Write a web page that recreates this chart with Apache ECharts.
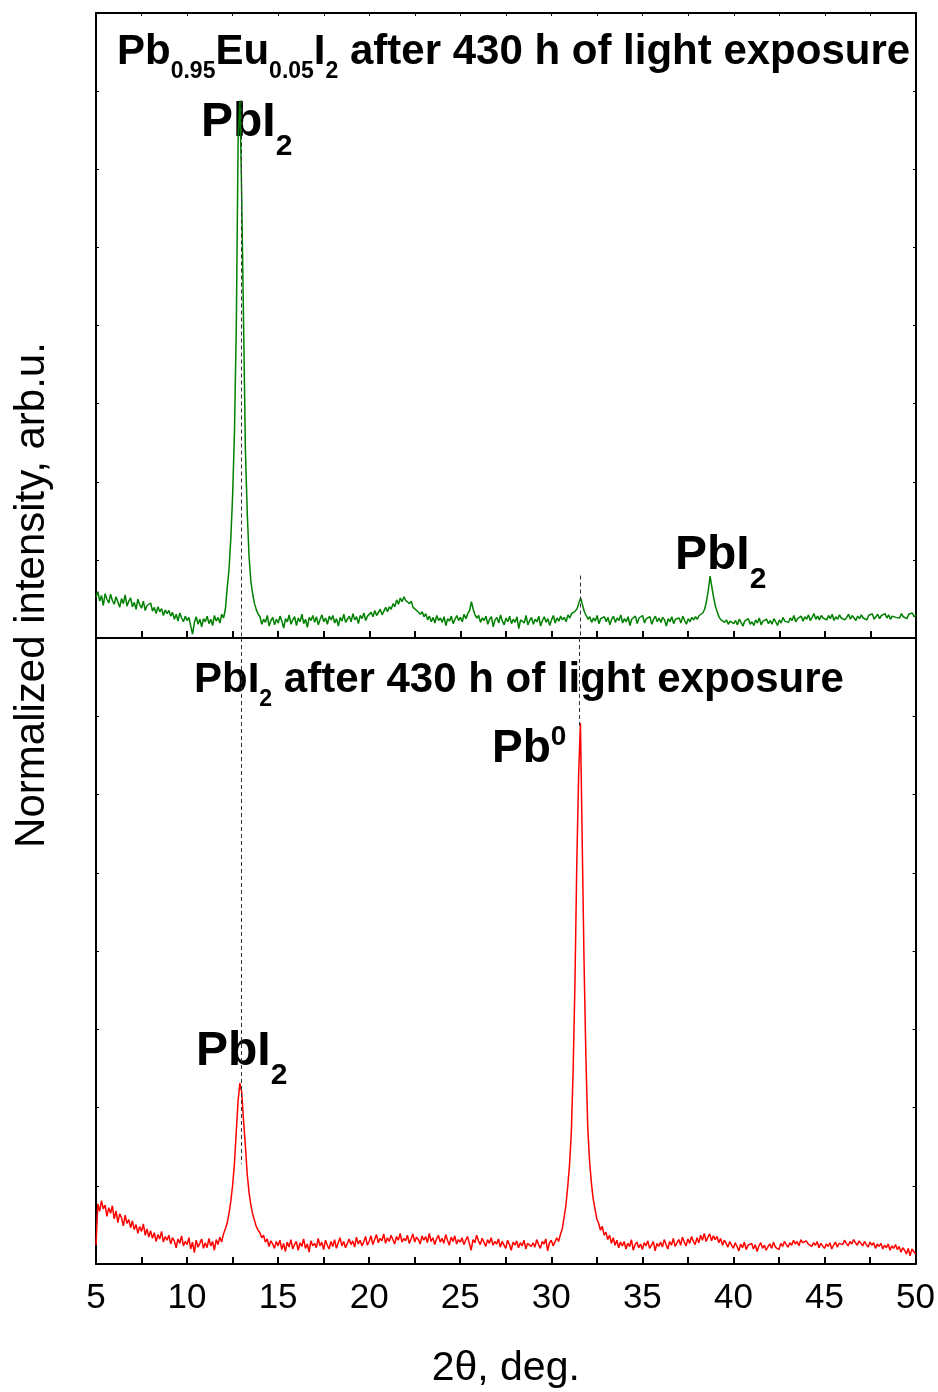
<!DOCTYPE html>
<html>
<head>
<meta charset="utf-8">
<script src="https://cdn.jsdelivr.net/npm/echarts@6/dist/echarts.min.js"></script>
<style>
html, body { margin: 0; padding: 0; background: #fff; }
#chart { width: 938px; height: 1392px; }
</style>
</head>
<body>
<div id="chart"></div>
<script>
// 2theta grid of the scans, deg
var angleStart = 5, angleStep = 0.1, angleCount = 451;

// Pb0.95Eu0.05I2 scan (top panel), normalized intensity
var euIntensity = [
  6.5, 7.4, 5.9, 6.8, 5.2, 7.1, 6.2, 5.6, 7.0, 6.0,
  5.4, 6.6, 5.8, 4.9, 6.3, 5.5, 6.9, 5.1, 5.9, 6.4,
  5.0, 5.7, 4.6, 6.2, 5.3, 4.8, 5.9, 4.4, 5.2, 4.9,
  5.6, 4.3, 4.9, 3.9, 5.0, 4.2, 4.7, 3.6, 4.5, 3.9,
  4.4, 3.5, 4.1, 3.0, 3.8, 2.7, 4.0, 3.2, 2.6, 3.5,
  2.8, 3.3, 1.9, 0.6, 2.5, 3.4, 2.2, 3.0, 1.8, 3.1,
  2.6, 3.5, 2.3, 3.0, 2.0, 3.6, 2.7, 3.3, 2.4, 3.8,
  3.2, 4.6, 8.0, 11, 16, 23, 33, 50, 80, 86,
  70, 50, 30, 20, 13, 9.0, 7.0, 5.5, 4.5, 3.8,
  3.4, 2.2, 3.0, 2.5, 3.6, 1.9, 2.8, 3.3, 2.1, 3.0,
  2.4, 3.5, 2.7, 1.6, 3.1, 2.6, 3.7, 2.2, 2.9, 3.4,
  2.0, 3.2, 2.6, 3.8, 2.3, 3.0, 1.7, 3.3, 2.8, 3.6,
  2.5, 3.4, 2.1, 3.0, 3.7, 2.6, 3.2, 2.2, 3.5, 2.9,
  3.6, 2.4, 3.1, 1.9, 3.3, 2.7, 3.8, 2.5, 3.0, 3.5,
  2.6, 3.9, 2.9, 3.4, 2.3, 3.6, 3.1, 4.0, 2.8, 3.5,
  3.2, 4.1, 3.4, 4.4, 3.6, 3.9, 4.6, 3.7, 4.3, 4.9,
  4.2, 5.0, 4.6, 5.5, 5.0, 6.1, 5.4, 6.4, 5.8, 6.6,
  6.0, 6.3, 5.5, 5.9, 4.9, 5.2, 4.4, 4.6, 3.8, 4.2,
  3.4, 3.9, 2.9, 3.5, 2.6, 3.3, 2.4, 3.6, 2.8, 3.2,
  2.5, 3.4, 2.0, 3.1, 2.7, 3.5, 2.3, 3.0, 3.6, 2.8,
  3.3, 2.6, 3.8, 3.1, 3.9, 4.4, 5.8, 4.6, 3.7, 3.2,
  3.6, 2.5, 3.2, 2.8, 3.5, 2.2, 3.0, 3.4, 1.8, 2.9,
  3.3, 2.4, 3.7, 2.7, 2.1, 3.2, 2.6, 3.5, 2.3, 3.0,
  2.5, 3.4, 1.5, 2.9, 3.2, 2.4, 3.6, 2.1, 2.8, 3.3,
  2.2, 3.0, 2.6, 3.5, 1.9, 2.8, 3.4, 2.5, 3.1, 2.0,
  2.9, 3.6, 2.4, 3.2, 2.7, 3.5, 2.9, 3.3, 2.6, 3.7,
  3.2, 3.9, 3.6, 4.3, 4.7, 5.6, 6.4, 5.3, 4.2, 3.6,
  3.0, 3.4, 2.5, 3.2, 2.7, 3.6, 2.3, 3.1, 2.8, 3.4,
  2.6, 3.3, 2.1, 3.0, 3.5, 2.5, 3.2, 2.8, 3.7, 2.4,
  3.1, 2.6, 3.4, 2.0, 3.0, 2.7, 3.5, 2.3, 3.2, 2.9,
  3.6, 2.4, 3.1, 2.8, 3.4, 2.2, 3.0, 3.5, 2.6, 3.2,
  2.5, 3.3, 2.9, 1.9, 3.1, 2.6, 3.4, 2.3, 3.0, 2.7,
  3.2, 2.4, 3.5, 2.8, 2.2, 3.1, 2.6, 3.3, 2.9, 3.4,
  3.0, 3.6, 3.3, 4.0, 4.6, 5.8, 7.6, 9.9, 8.1, 6.4,
  5.0, 4.1, 3.3, 2.9, 3.2, 2.5, 2.9, 2.2, 2.7, 3.0,
  2.3, 2.8, 2.1, 3.0, 2.5, 1.9, 2.7, 2.4, 3.1, 2.2,
  2.6, 2.0, 2.9, 2.4, 3.2, 2.1, 2.7, 2.5, 3.0, 2.3,
  2.8, 2.2, 3.1, 2.6, 2.0, 2.9, 2.4, 3.3, 2.7, 3.0,
  2.5, 3.2, 2.8, 3.6, 2.6, 3.1, 2.9, 3.5, 2.7, 3.4,
  3.0, 3.7, 2.8, 3.3, 3.9, 3.0, 3.5, 2.9, 3.6, 3.2,
  3.4, 2.9, 3.6, 3.1, 3.8, 2.8, 3.4, 3.0, 3.7, 3.2,
  3.5, 2.9, 3.3, 3.8, 3.0, 3.6, 3.2, 2.8, 3.5, 3.1,
  3.7, 3.2, 3.5, 2.9, 3.6, 3.3, 3.9, 3.0, 3.4, 3.8,
  3.1, 3.6, 3.3, 3.9, 3.2, 3.7, 3.0, 3.5, 3.8, 3.3,
  3.6, 3.2, 3.9, 3.4, 3.7, 3.1, 3.8, 3.5, 4.0, 3.4,
  3.7
];

// PbI2 scan (bottom panel), normalized intensity
var pbIntensity = [
  3.0, 9.6, 8.4, 10.1, 8.8, 9.4, 7.6, 9.0, 8.1, 9.3,
  7.2, 8.5, 6.6, 8.0, 7.4, 6.1, 7.8, 6.5, 7.1, 5.8,
  6.9, 5.5, 6.3, 4.9, 6.0, 5.2, 6.4, 4.6, 5.6, 4.3,
  5.3, 4.1, 5.0, 3.6, 4.7, 4.0, 5.2, 3.5, 4.4, 3.8,
  4.6, 3.2, 4.2, 3.7, 2.6, 4.0, 3.3, 4.5, 2.9, 3.6,
  3.1, 4.2, 2.4, 3.5, 1.8, 3.8, 2.7, 3.3, 4.0, 2.5,
  3.4, 2.6, 4.1, 2.9, 3.6, 2.2, 3.9, 3.1, 4.3, 3.5,
  4.8, 5.6, 6.5, 8.0, 10.0, 12.5, 16, 21, 26, 28.9,
  27.5, 23, 19, 14.5, 11.5, 9.5, 8.0, 7.0, 6.0, 5.4,
  5.0, 4.2, 4.6, 3.5, 4.0, 2.8, 3.7, 3.2, 2.5, 3.6,
  2.9, 3.8, 2.3, 3.3, 2.0, 3.5, 2.7, 3.9, 2.4, 3.1,
  3.6, 2.2, 3.4, 2.8, 4.0, 2.5, 3.2, 1.9, 3.7, 2.9,
  3.3, 2.6, 4.1, 2.9, 3.5, 2.3, 3.8, 3.0, 2.4, 3.6,
  2.8, 3.9, 2.5, 3.4, 4.2, 2.9, 3.6, 2.6, 3.3, 4.0,
  3.1, 3.7, 2.7, 4.3, 3.2, 3.8, 2.9, 3.5, 4.4, 3.0,
  3.6, 4.5, 3.1, 3.9, 4.7, 3.4, 4.1, 3.7, 4.8, 3.3,
  4.2, 3.6, 4.6, 3.9, 3.2, 4.4, 3.8, 4.9, 3.5, 4.1,
  3.7, 4.6, 3.3, 4.0, 4.8, 3.5, 4.3, 3.9, 3.2, 4.5,
  3.8, 4.4, 3.4, 4.9, 3.6, 4.2, 3.1, 4.0, 4.6, 3.5,
  4.1, 3.3, 4.7, 3.8, 3.0, 4.3, 3.6, 4.5, 3.2, 3.9,
  3.5, 4.2, 3.1, 3.8, 4.4, 3.3, 2.2, 3.9, 3.4, 4.6,
  3.7, 3.1, 4.1, 3.5, 2.8, 3.9, 3.3, 4.2, 3.0, 3.6,
  3.2, 4.0, 2.7, 3.6, 3.3, 2.5, 3.8, 3.1, 2.2, 3.5,
  3.0, 3.7, 2.6, 3.4, 2.9, 3.8, 2.4, 3.3, 3.6, 2.8,
  3.4, 2.7, 3.9, 3.1, 2.5, 3.6, 3.2, 4.0, 2.1, 3.4,
  3.8, 2.9, 3.5, 4.2, 3.6, 4.7, 5.6, 7.4, 9.3, 12.3,
  15.8, 21, 31, 45, 64, 78, 86.4, 67, 48, 33,
  22, 16.5, 13, 10.4, 8.8, 7.2, 6.5, 5.4, 6.0, 4.6,
  5.1, 3.9, 4.6, 3.3, 4.2, 3.0, 3.8, 2.6, 3.5, 2.9,
  3.6, 2.4, 3.3, 2.8, 3.9, 2.2, 3.1, 3.5, 2.6, 3.2,
  2.3, 3.4, 2.9, 3.7, 2.5, 3.0, 3.6, 2.1, 3.3, 2.8,
  3.5, 2.7, 3.9, 3.1, 2.4, 3.6, 3.0, 4.1, 2.8, 3.4,
  3.9, 3.0, 4.3, 3.5, 2.9, 4.0, 3.3, 4.4, 3.6, 3.1,
  4.2, 3.4, 4.6, 3.8, 4.9, 3.6, 4.3, 4.8, 3.7, 4.5,
  3.9, 4.4, 3.4, 4.1, 3.0, 3.8, 3.3, 2.7, 3.6, 3.0,
  2.5, 3.4, 2.8, 2.1, 3.2, 2.6, 3.5, 2.3, 3.0, 2.7,
  3.3, 2.4, 3.1, 2.0, 2.9, 3.4, 2.5, 3.0, 2.2, 2.8,
  3.2, 2.5, 3.5, 2.7, 3.0, 2.3, 3.3, 2.8, 3.6, 3.1,
  2.7, 3.4, 3.0, 3.8, 3.2, 3.6, 2.9, 3.9, 3.4, 3.1,
  3.7, 3.2, 3.5, 2.8, 3.4, 3.0, 3.6, 2.6, 3.3, 2.9,
  2.5, 3.2, 2.8, 3.4, 2.4, 3.0, 3.5, 2.7, 3.3, 3.6,
  3.1, 3.8, 3.3, 2.9, 3.6, 3.2, 3.9, 3.4, 3.0, 3.7,
  3.3, 2.9, 3.6, 3.1, 2.7, 3.5, 3.0, 3.4, 2.5, 3.2,
  2.8, 3.3, 2.4, 3.0, 2.6, 3.2, 2.2, 2.9, 2.5, 3.1,
  2.3, 2.8, 1.9, 2.6, 2.2, 1.6, 2.5, 1.3, 2.4, 2.0,
  1.6
];

// dashed guide lines: angle, where they start in the top panel, where they stop in the bottom one
var dashAngles = [12.95, 31.55];
var dashTopStart = [86, 10];
var dashBottomEnd = [16, 86];

var xTicks = [5, 10, 15, 20, 25, 30, 35, 40, 45, 50];

var FONT = "'Liberation Sans', Arial, sans-serif";

function buildSeries(vals) {
	var out = [];
	for (var i = 0; i < angleCount; i++) {
		out.push([+(angleStart + i * angleStep).toFixed(1), vals[i]]);
	}
	return out;
}

function dashLines(fromVals, toVals) {
	var lines = [];
	for (var i = 0; i < dashAngles.length; i++) {
		lines.push([{ coord: [dashAngles[i], fromVals[i]] }, { coord: [dashAngles[i], toVals[i]] }]);
	}
	return lines;
}

function xAxis(grid, pos, tickLen, tickW, labels) {
	return {
		type: 'value', gridIndex: grid, position: pos,
		min: 5, max: 50, interval: 2.5,
		axisLine: { show: true, onZero: false, lineStyle: { color: '#000', width: 2 } },
		axisTick: { show: tickLen > 0, inside: true, length: tickLen, lineStyle: { color: '#000', width: tickW } },
		axisLabel: {
			show: labels, margin: 17, color: '#000', fontSize: 35, fontFamily: FONT,
			formatter: function (v) { return xTicks.indexOf(v) >= 0 ? String(v) : ''; }
		},
		splitLine: { show: false },
		name: labels ? '2\u03b8, deg.' : '',
		nameLocation: 'middle', nameGap: 84,
		nameTextStyle: { color: '#000', fontSize: 41, fontFamily: FONT }
	};
}

function yAxis(grid, pos) {
	return {
		type: 'value', gridIndex: grid, position: pos,
		min: 0, max: 100, interval: 12.5,
		axisLine: { show: true, onZero: false, lineStyle: { color: '#000', width: 2 } },
		axisTick: { show: true, inside: true, length: 3, lineStyle: { color: '#000', width: 1 } },
		axisLabel: { show: false },
		splitLine: { show: false }
	};
}

var titleRich = {
	t: { fontSize: 42, fontWeight: 'bold', fontFamily: FONT, color: '#000', verticalAlign: 'top' },
	ts: { fontSize: 23, fontWeight: 'bold', fontFamily: FONT, color: '#000', verticalAlign: 'top', padding: [29, 0, 0, 0] },
	l: { fontSize: 48, fontWeight: 'bold', fontFamily: FONT, color: '#000', verticalAlign: 'top' },
	ls: { fontSize: 30, fontWeight: 'bold', fontFamily: FONT, color: '#000', verticalAlign: 'top', padding: [33, 0, 0, 0] },
	p: { fontSize: 46, fontWeight: 'bold', fontFamily: FONT, color: '#000', verticalAlign: 'top', padding: [10, 0, 0, 0] },
	ps: { fontSize: 28, fontWeight: 'bold', fontFamily: FONT, color: '#000', verticalAlign: 'top', padding: [7, 0, 0, 0] }
};

function richText(x, y, str) {
	return {
		type: 'text', x: x, y: y, silent: true,
		style: { text: str, rich: titleRich, fill: '#000', align: 'left', verticalAlign: 'top', font: 'bold 42px ' + FONT }
	};
}

var chart = echarts.init(document.getElementById('chart'), null, { renderer: 'canvas' });

var option = {
	animation: false,
	backgroundColor: '#fff',
	grid: [
		{ left: 96, right: 22, top: 13, height: 625 },
		{ left: 96, right: 22, top: 638, height: 626 }
	],
	xAxis: [
		xAxis(0, 'bottom', 7, 2, false),
		xAxis(0, 'top', 3, 1, false),
		xAxis(1, 'bottom', 7, 2, true),
		xAxis(1, 'top', 0, 1, false)
	],
	yAxis: [yAxis(0, 'left'), yAxis(0, 'right'), yAxis(1, 'left'), yAxis(1, 'right')],
	series: [
		{
			name: 'Pb0.95Eu0.05I2', type: 'line', xAxisIndex: 0, yAxisIndex: 0,
			data: buildSeries(euIntensity), showSymbol: false, symbol: 'none',
			lineStyle: { color: '#008000', width: 1.5 },
			markLine: {
				silent: true, symbol: ['none', 'none'], label: { show: false },
				lineStyle: { color: '#333', width: 1, type: [4, 3] },
				data: dashLines(dashTopStart, [0, 0])
			}
		},
		{
			name: 'PbI2', type: 'line', xAxisIndex: 2, yAxisIndex: 2,
			data: buildSeries(pbIntensity), showSymbol: false, symbol: 'none',
			lineStyle: { color: '#ff0000', width: 1.5 },
			markLine: {
				silent: true, symbol: ['none', 'none'], label: { show: false },
				lineStyle: { color: '#333', width: 1, type: [4, 3] },
				data: dashLines([100, 100], dashBottomEnd)
			}
		}
	],
	graphic: [
		richText(117, 31, '{t|Pb}{ts|0.95}{t|Eu}{ts|0.05}{t|I}{ts|2}{t| after 430 h of light exposure}'),
		richText(194, 659, '{t|PbI}{ts|2}{t| after 430 h of light exposure}'),
		richText(201, 99, '{l|PbI}{ls|2}'),
		richText(675, 532, '{l|PbI}{ls|2}'),
		richText(196, 1028, '{l|PbI}{ls|2}'),
		richText(492, 716, '{p|Pb}{ps|0}'),
		{
			type: 'text', x: 32, y: 595, rotation: Math.PI / 2, silent: true,
			style: {
				text: 'Normalized intensity, arb.u.', fill: '#000',
				font: '42px ' + FONT, align: 'center', verticalAlign: 'middle'
			}
		}
	]
};

chart.setOption(option);
</script>
</body>
</html>
